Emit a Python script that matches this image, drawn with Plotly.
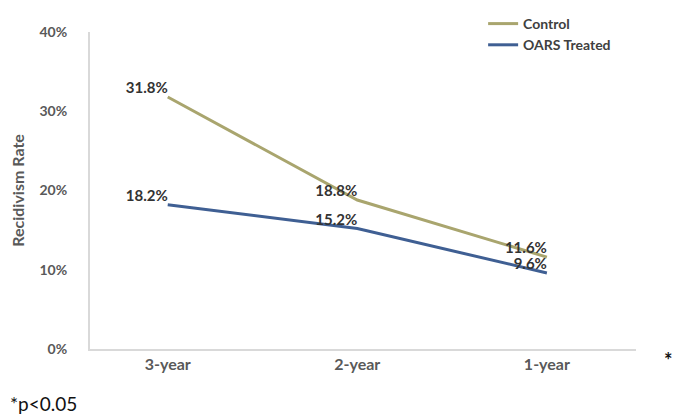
import plotly.graph_objects as go

categories = ["3-year", "2-year", "1-year"]
control = [31.8, 18.8, 11.6]
oars = [18.2, 15.2, 9.6]
y_ticks = [0, 10, 20, 30, 40]
y_tick_labels = ["0%", "10%", "20%", "30%", "40%"]

FONT = "Lato, Carlito, 'Open Sans', sans-serif"
TXT = "#595959"

fig = go.Figure()
fig.add_trace(go.Scatter(
    x=categories, y=control, name="Control", mode="lines+text",
    line=dict(color="#A9A56E", width=3),
    text=[f"{v:.1f}%" for v in control], textposition="top left",
    textfont=dict(family=FONT, size=15, color="#333333", weight="bold"),
))
fig.add_trace(go.Scatter(
    x=categories, y=oars, name="OARS Treated", mode="lines+text",
    line=dict(color="#3F5F93", width=3),
    text=[f"{v:.1f}%" for v in oars], textposition="top left",
    textfont=dict(family=FONT, size=15, color="#333333", weight="bold"),
))

fig.update_layout(
    width=673, height=409,
    margin=dict(l=82, r=45, t=24, b=68, autoexpand=False),
    paper_bgcolor="white", plot_bgcolor="white",
    font=dict(family=FONT, size=12, color=TXT, weight="bold"),
    showlegend=True,
    legend=dict(x=0.72, y=1.0, xanchor="left", yanchor="top",
                yref="container",
                bgcolor="rgba(0,0,0,0)", tracegroupgap=0,
                font=dict(family=FONT, size=14, color="#404040", weight="bold")),
    xaxis=dict(type="category", range=[-0.41, 2.47], showgrid=False,
               showline=True, linecolor="#D9D9D9", linewidth=2, ticks="",
               tickfont=dict(family=FONT, size=16, color=TXT, weight="bold"),
               zeroline=False),
    yaxis=dict(range=[0, 40], tickvals=y_ticks, ticktext=y_tick_labels,
               showgrid=False, showline=True, linecolor="#D9D9D9", linewidth=2,
               ticks="", ticklabelstandoff=18, zeroline=False,
               tickfont=dict(family=FONT, size=14, color=TXT, weight="bold"),
               title=dict(text="Recidivism Rate", standoff=16,
                          font=dict(family=FONT, size=16, color=TXT, weight="bold"))),
)
fig.add_annotation(text="*p<0.05", xref="paper", yref="paper", x=-0.15, y=-0.172,
                   xanchor="left", yanchor="middle", showarrow=False,
                   font=dict(family=FONT, size=19, color="#111111", weight="normal"))
fig.add_annotation(text="*", xref="paper", yref="paper", x=1.06, y=-0.035,
                   xanchor="center", yanchor="middle", showarrow=False,
                   font=dict(family=FONT, size=20, color="#111111", weight="bold"))
fig.write_html("out.html")
